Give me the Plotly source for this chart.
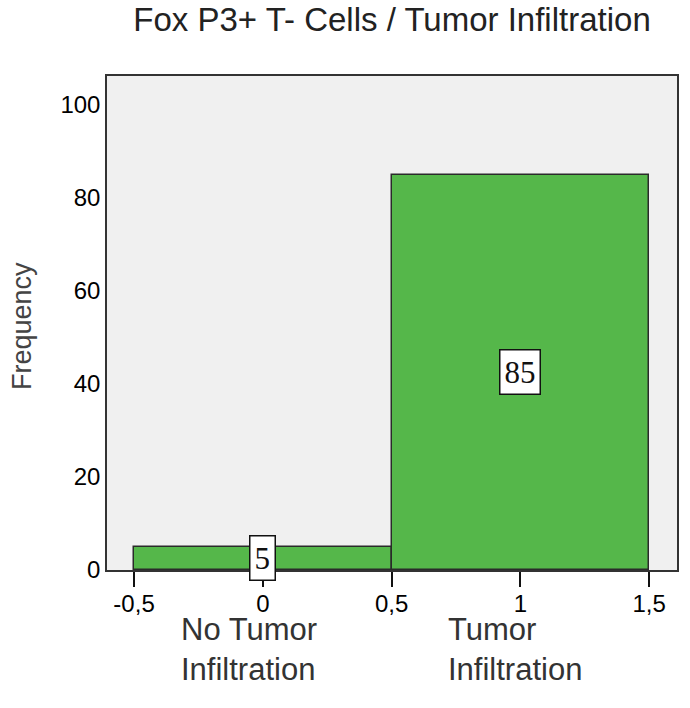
import plotly.graph_objects as go

# Data
categories = [0, 1]
frequencies = [5, 85]
category_names = ["No Tumor<br>Infiltration", "Tumor<br>Infiltration"]
x_tick_vals = [-0.5, 0, 0.5, 1, 1.5]
x_tick_text = ["-0,5", "0", "0,5", "1", "1,5"]
y_tick_vals = [0, 20, 40, 60, 80, 100]

GREEN = "#55b74a"
label_offsets = [-0.325, -0.29]

fig = go.Figure()
fig.add_trace(go.Bar(
    x=categories, y=frequencies, width=1,
    marker=dict(color=GREEN, line=dict(color="#2a2a2a", width=1.5)),
    hoverinfo="skip", showlegend=False,
))

# value boxes at mid-height of bars
for c, f in zip(categories, frequencies):
    fig.add_annotation(
        x=c, y=f / 2, xref="x", yref="y", text=str(f), showarrow=False,
        font=dict(family="Liberation Serif", size=31, color="#111"),
        bgcolor="white", bordercolor="#111", borderwidth=1.5, borderpad=4,
    )

# category labels under the axis
for c, name, off in zip(categories, category_names, label_offsets):
    fig.add_annotation(
        x=c + off, y=-0.08, xref="x", yref="paper", text=name, showarrow=False,
        xanchor="left", yanchor="top", align="left",
        font=dict(family="Liberation Sans", size=31, color="#333"),
    )

# y axis title
fig.add_annotation(
    x=-0.149, y=0.494, xref="paper", yref="paper", text="Frequency",
    showarrow=False, textangle=-90, xanchor="center", yanchor="middle",
    font=dict(family="Liberation Sans", size=27, color="#444"),
)

fig.update_layout(
    width=690, height=708,
    margin=dict(l=107, r=11, t=76, b=138),
    paper_bgcolor="white", plot_bgcolor="#f0f0f0",
    title=dict(text="Fox P3+ T- Cells / Tumor Infiltration", x=0.5, xref="paper",
               xanchor="center", y=0.972, yanchor="middle",
               font=dict(family="Liberation Sans", size=33, color="#222")),
    bargap=0,
)
fig.update_xaxes(
    range=[-0.605, 1.608], tickvals=x_tick_vals, ticktext=x_tick_text,
    ticks="outside", ticklen=15, tickwidth=2, tickcolor="#111",
    ticklabelstandoff=-4,
    showgrid=False, zeroline=False, showline=True, mirror=True,
    linecolor="#333", linewidth=1.5,
    tickfont=dict(family="Liberation Sans", size=24, color="#000"),
)
fig.update_yaxes(
    range=[0, 106.2], tickvals=y_tick_vals, ticks="",
    showgrid=False, zeroline=False, showline=True, mirror=True,
    linecolor="#333", linewidth=1.5,
    tickfont=dict(family="Liberation Sans", size=24, color="#000"),
)

fig.write_html("out.html", config={"displayModeBar": False},
               post_script="document.body.style.margin='0';")
